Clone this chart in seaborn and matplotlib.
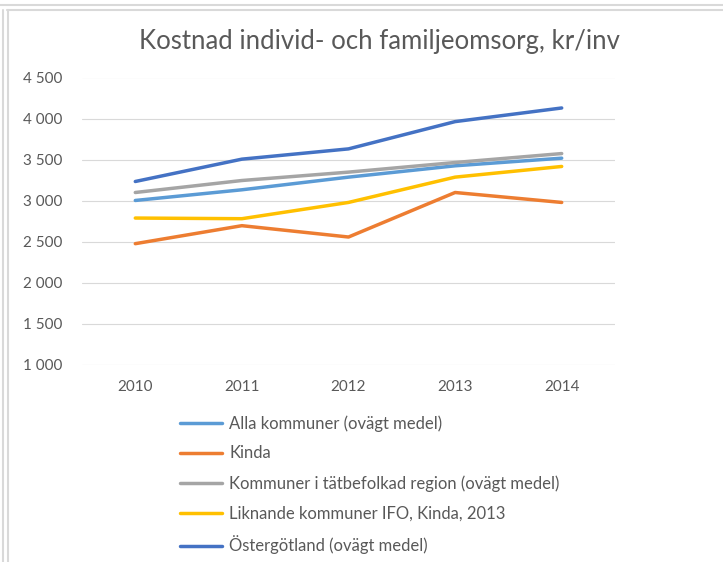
import matplotlib
matplotlib.use("Agg")
import matplotlib.pyplot as plt
from matplotlib.lines import Line2D
from matplotlib.ticker import FuncFormatter
import pandas as pd
import seaborn as sns

years = [2010, 2011, 2012, 2013, 2014]
series_names = [
    "Alla kommuner (ovägt medel)",
    "Kinda",
    "Kommuner i tätbefolkad region (ovägt medel)",
    "Liknande kommuner IFO, Kinda, 2013",
    "Östergötland (ovägt medel)",
]
alla = [3003, 3133, 3287, 3425, 3518]
kinda = [2477, 2696, 2558, 3100, 2979]
tatbefolkad = [3100, 3246, 3348, 3465, 3574]
liknande = [2789, 2781, 2979, 3287, 3417]
ostergotland = [3234, 3506, 3631, 3963, 4129]

colors = ["#5B9BD5", "#ED7D31", "#A5A5A5", "#FFC000", "#4472C4"]
TEXT = "#595959"
GRID = "#d9d9d9"

df = pd.DataFrame({
    "year": years * 5,
    "value": alla + kinda + tatbefolkad + liknande + ostergotland,
    "serie": [n for n in series_names for _ in years],
})

sns.set_theme(style="white")
plt.rcParams["font.family"] = ["Lato", "DejaVu Sans"]

W, H = 723, 562
fig = plt.figure(figsize=(W / 100, H / 100), dpi=100)
ax = fig.add_axes([82 / W, 1 - 365 / H, (615 - 82) / W, (365 - 77.5) / H])

sns.lineplot(data=df, x="year", y="value", hue="serie", hue_order=series_names,
             palette=colors, linewidth=2.5, ax=ax, legend=True)

ax.set_xlim(2009.5, 2014.5)
ax.set_ylim(1000, 4500)
ax.set_yticks(range(1000, 4501, 500))
ax.set_xticks(years)
ax.yaxis.set_major_formatter(FuncFormatter(lambda v, p: f"{int(v):,}".replace(",", " ")))
ax.grid(axis="y", color=GRID, linewidth=0.8)
ax.set_axisbelow(True)
for s in ax.spines.values():
    s.set_visible(False)
ax.tick_params(axis="both", length=0, colors=TEXT, labelsize=11)
ax.tick_params(axis="y", pad=14)
ax.tick_params(axis="x", pad=11)
ax.set_xlabel("")
ax.set_ylabel("")

handles, labels = ax.get_legend_handles_labels()
ax.get_legend().remove()
for h in handles:
    h.set_linewidth(2.5)
fig.legend(handles, labels, loc="upper left", bbox_to_anchor=(180 / W, 1 - 415 / H),
           frameon=False, fontsize=12, labelcolor=TEXT, handlelength=2.5,
           handletextpad=0.45, labelspacing=0.83, borderpad=0, borderaxespad=0)

fig.text(379 / W, 1 - 42 / H, "Kostnad individ- och familjeomsorg, kr/inv",
         ha="center", va="center", fontsize=18.5, color=TEXT)

# window frame lines
for (x0, y0, x1, y1) in [(0, 4.5, W, 4.5), (7, 10, W, 10), (2.5, 10, 2.5, H), (7.5, 10, 7.5, H)]:
    fig.add_artist(Line2D([x0 / W, x1 / W], [1 - y0 / H, 1 - y1 / H],
                          transform=fig.transFigure, color=GRID, linewidth=1.5))

fig.savefig("out.png", dpi=100)
